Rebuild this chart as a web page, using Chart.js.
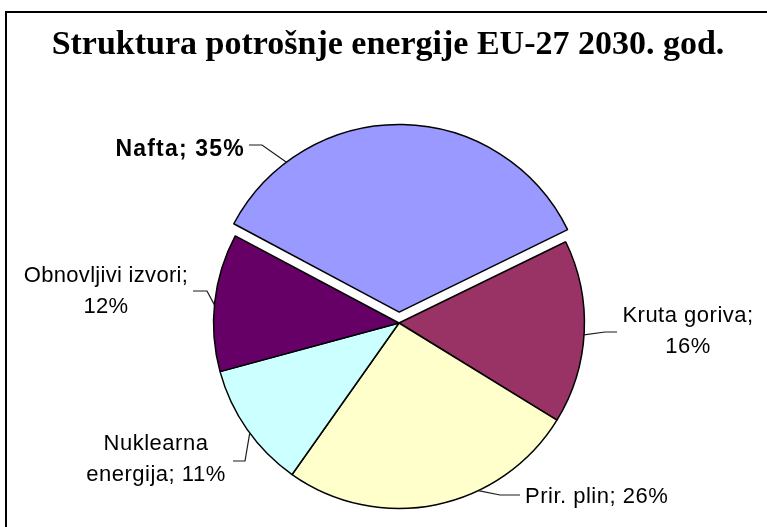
<!DOCTYPE html>
<html>
<head>
<meta charset="utf-8">
<script src="https://cdn.jsdelivr.net/npm/chart.js@4/dist/chart.umd.min.js"></script>
<style>
  html, body { margin: 0; padding: 0; background: #fff; overflow: hidden; }
  #wrap { width: 767px; height: 527px; position: relative; overflow: hidden; }
</style>
</head>
<body>
<div id="wrap"><canvas id="grafico" width="767" height="560"></canvas></div>
<script>
// podaci
const naslov = "Struktura potrošnje energije EU-27 2030. god.";
const kategorije = ["Nafta", "Kruta goriva", "Prir. plin", "Nuklearna energija", "Obnovljivi izvori"];
const udjeli = [35, 16, 26, 11, 12];
const boje = ["#9999FF", "#993366", "#FFFFCC", "#CCFFFF", "#660066"];

// raspored natpisa (kut sidra u stupnjevima od vrha, lom linije, kraj linije, tekst)
const natpisi = [
  { kut: 322.7, lom: [262, 145], kraj: [249, 145], x: 245, y: 156, align: "right", bold: true, vel: 23, razmak: 1.2, prelom: "none" },
  { kut: 93.7,  lom: [605, 332], kraj: [617, 332], x: 688, y: 322, align: "center", vel: 22, razmak: 0.5, prelom: "pct" },
  { kut: 154.7, lom: [500, 495], kraj: [520, 495], x: 525, y: 503, align: "left", vel: 22, razmak: 0.5, prelom: "none" },
  { kut: 233.6, lom: [245, 461], kraj: [233, 461], x: 156, y: 450, align: "center", vel: 22, razmak: 0.5, prelom: "word" },
  { kut: 275.6, lom: [207, 291], kraj: [193, 291], x: 106, y: 282, align: "center", vel: 22, razmak: 0.3, prelom: "pct" }
];

function redovi(i) {
  const ime = kategorije[i];
  const pct = udjeli[i] + "%";
  const n = natpisi[i];
  if (n.prelom === "pct") return [ime + ";", pct];
  if (n.prelom === "word") {
    const k = ime.indexOf(" ");
    return [ime.slice(0, k), ime.slice(k + 1) + "; " + pct];
  }
  return [ime + "; " + pct];
}

const okvirINaslov = {
  id: "okvirINaslov",
  afterDraw(chart) {
    const ctx = chart.ctx;
    ctx.save();
    // okvir
    ctx.strokeStyle = "#000";
    ctx.lineWidth = 2;
    ctx.beginPath();
    ctx.moveTo(6, 570);
    ctx.lineTo(6, 12);
    ctx.lineTo(770, 12);
    ctx.stroke();
    // naslov
    ctx.fillStyle = "#000";
    ctx.font = "bold 34px 'Liberation Serif', 'Times New Roman', serif";
    ctx.textAlign = "center";
    ctx.textBaseline = "alphabetic";
    ctx.fillText(naslov, 388, 54);

    // natpisi s linijama
    const meta = chart.getDatasetMeta(0);
    meta.data.forEach((arc, i) => {
      const n = natpisi[i];
      const off = chart.data.datasets[0].offset[i] || 0;
      const mid = (arc.startAngle + arc.endAngle) / 2;
      // isti pomak kao u ArcElement.draw
      const circ = arc.endAngle - arc.startAngle;
      const pomak = off / 4 * (2 - Math.sin(Math.min(Math.PI, circ)));
      const cx = arc.x + Math.cos(mid) * pomak;
      const cy = arc.y + Math.sin(mid) * pomak;
      const a = (n.kut - 90) * Math.PI / 180;
      const r = arc.outerRadius;
      ctx.strokeStyle = "#1a1a1a";
      ctx.lineWidth = 1.2;
      ctx.beginPath();
      ctx.moveTo(cx + Math.cos(a) * r, cy + Math.sin(a) * r);
      ctx.lineTo(n.lom[0], n.lom[1]);
      ctx.lineTo(n.kraj[0], n.kraj[1]);
      ctx.stroke();

      ctx.fillStyle = "#000";
      ctx.font = (n.bold ? "bold " : "") + n.vel + "px 'Liberation Sans', Arial, sans-serif";
      ctx.letterSpacing = n.razmak + "px";
      ctx.textAlign = n.align;
      redovi(i).forEach((t, j) => ctx.fillText(t, n.x, n.y + j * 31));
    });
    ctx.restore();
  }
};

new Chart(document.getElementById("grafico").getContext("2d"), {
  type: "pie",
  data: {
    labels: kategorije,
    datasets: [{
      data: udjeli,
      backgroundColor: boje,
      borderColor: "#000",
      borderWidth: 1.5,
      offset: [43.6, 0, 0, 0, 0]
    }]
  },
  options: {
    responsive: false,
    animation: false,
    events: [],
    rotation: 298,
    layout: { padding: { top: 115, bottom: 29, left: 180, right: 149 } },
    plugins: {
      legend: { display: false },
      title: { display: false },
      tooltip: { enabled: false }
    }
  },
  plugins: [okvirINaslov]
});
</script>
</body>
</html>
